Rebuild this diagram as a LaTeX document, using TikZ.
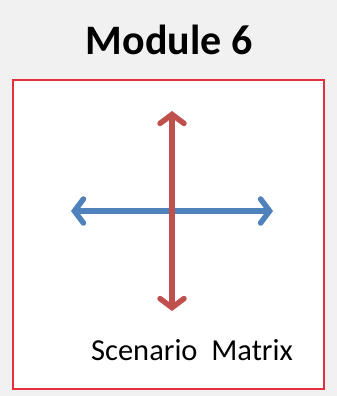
\documentclass[tikz,border=0pt]{standalone}
\usepackage{fontspec}
\setmainfont{Carlito}
\usetikzlibrary{arrows.meta}
\definecolor{pagegray}{HTML}{F2F1F1}
\definecolor{framered}{HTML}{E3303C}
\definecolor{axisred}{HTML}{C0504D}
\definecolor{axisblue}{HTML}{4F81BD}
\tikzset{
  axis/.style={line width=5.5pt, line cap=round,
    {Straight Barb[length=9pt,width=24pt,line cap=round]}-{Straight Barb[length=9pt,width=24pt,line cap=round]}},
  frame/.style={draw=framered, line width=2pt, fill=white}
}
\begin{document}
\begin{tikzpicture}[x=1pt,y=-1pt]
  % page
  \fill[pagegray] (0,0) rectangle (337,396);
  \useasboundingbox (0,0) rectangle (337,396);
  % title
  \node[font=\bfseries\fontsize{42}{50}\selectfont, anchor=base] (title) at (169,55) {Module 6};
  % frame
  \node[frame, minimum width=311pt, minimum height=309pt, anchor=north west, inner sep=0pt] (box) at (11.5,78.5) {};
  % axis end points
  \coordinate (top) at (172,111);
  \coordinate (bottom) at (172,311);
  \coordinate (left) at (71,211);
  \coordinate (right) at (273,211);
  \draw[axis, draw=axisblue] (left) -- (right);
  \draw[axis, draw=axisred] (top) -- (bottom);
  % caption
  \node[font=\fontsize{30.5}{36}\selectfont, anchor=base] (caption) at (192,360) {Scenario\ \ Matrix};
\end{tikzpicture}
\end{document}
